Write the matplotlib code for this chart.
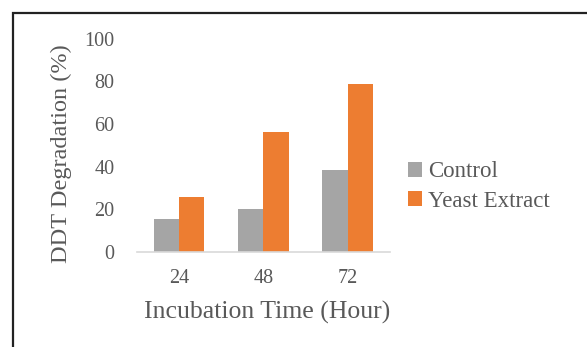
import numpy as np
import matplotlib
matplotlib.use("Agg")
import matplotlib.pyplot as plt
from matplotlib.patches import Rectangle

hours = ["24", "48", "72"]
control = [15.4, 20.3, 38.6]
yeast_extract = [25.7, 56.3, 79.0]

plt.rcParams['font.family'] = ['Liberation Serif', 'DejaVu Serif']
text_color = '#595959'

fig = plt.figure(figsize=(5.87, 3.47), dpi=100)
ax = fig.add_axes([0.233, 0.274, 0.431, 0.614])

x = np.arange(len(hours))
w = 0.3
ax.bar(x - w / 2, control, w, color='#A5A5A5', label='Control')
ax.bar(x + w / 2, yeast_extract, w, color='#ED7D31', label='Yeast Extract')

ax.set_xlim(-0.5, len(hours) - 0.5)
ax.set_ylim(0, 100)
ax.set_yticks(range(0, 101, 20))
ax.set_xticks(x)
ax.set_xticklabels(hours)

for side in ['top', 'right', 'left']:
    ax.spines[side].set_visible(False)
ax.spines['bottom'].set_color('#D9D9D9')
ax.spines['bottom'].set_linewidth(1.2)
ax.tick_params(axis='both', length=0, labelsize=14.5, colors=text_color)
ax.tick_params(axis='x', pad=12)
ax.tick_params(axis='y', pad=16)

ax.set_xlabel('Incubation Time (Hour)', fontsize=18.5, color=text_color, va='center')
ax.xaxis.set_label_coords(0.515, -0.283)
ax.set_ylabel('DDT Degradation (%)', fontsize=17.5, color=text_color, va='center')
ax.yaxis.set_label_coords(-0.296, 0.46)

fig.legend(loc='center left', bbox_to_anchor=(0.695, 0.4625), frameon=False,
           fontsize=16.5, labelcolor=text_color, handlelength=0.63, handleheight=0.63,
           handletextpad=0.25, labelspacing=0.38, borderpad=0, borderaxespad=0)

# outer frame around the chart
fig.patches.append(Rectangle((12.5 / 587, -0.1), 1.2, (347 - 12.5) / 347 + 0.1,
                             transform=fig.transFigure, fill=False,
                             edgecolor='#222222', linewidth=1.6))

fig.savefig('out.png', dpi=100)
